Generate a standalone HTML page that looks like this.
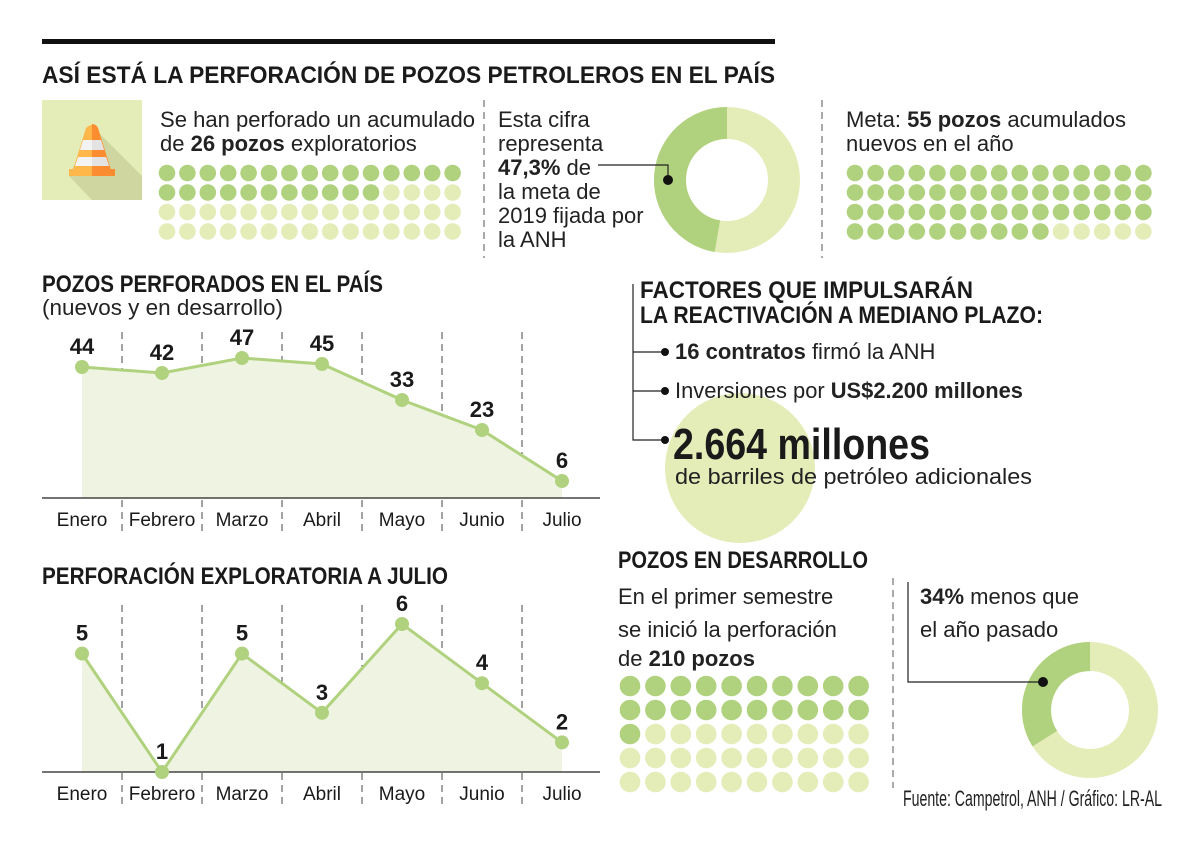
<!DOCTYPE html>
<html><head><meta charset="utf-8">
<style>
html,body{margin:0;padding:0;background:#fff;}
svg{display:block;}
text{font-family:"Liberation Sans Narrow","Liberation Sans",sans-serif;fill:#1a1a1a;}
.t{font-size:22px;font-weight:300;fill:#222;}
.h{font-weight:bold;font-size:24px;}
.b{font-weight:bold;}
</style></head>
<body>
<svg id="s" width="1200" height="847" viewBox="0 0 1200 847" xmlns="http://www.w3.org/2000/svg">
<rect x="42" y="39" width="733" height="5" fill="#111"/>
<text x="42" y="83" class="h" font-size="29" textLength="733" lengthAdjust="spacingAndGlyphs">ASÍ ESTÁ LA PERFORACIÓN DE POZOS PETROLEROS EN EL PAÍS</text>

<g>
<rect x="42" y="100" width="100" height="100" fill="#e4ecb8"/>
<polygon points="92,126 142,176 142,200 92,200 69,176" fill="#cfd6a0"/>
<path d="M86,128 Q92,122 98,128 L111,170 L73,170 Z" fill="#ffb74a"/>
<path d="M92,124 Q96,124 98,128 L111,170 L92,170 Z" fill="#fb8c2f"/>
<polygon points="83,140 101,140 104,150 80,150" fill="#f3f3f3"/>
<polygon points="78,157 106,157 109,166 75,166" fill="#f3f3f3"/>
<polygon points="92,140 101,140 104,150 92,150" fill="#e3e3e3"/>
<polygon points="92,157 106,157 109,166 92,166" fill="#e3e3e3"/>
<rect x="69" y="169" width="46" height="7" fill="#ffb74a"/>
<rect x="92" y="169" width="23" height="7" fill="#fb8c2f"/>
</g>

<text x="160" y="127" class="t" textLength="315" lengthAdjust="spacingAndGlyphs">Se han perforado un acumulado</text>
<text x="160" y="151" class="t">de <tspan class="b">26 pozos</tspan> exploratorios</text>
<g id="dots1"></g>

<line x1="484" y1="100" x2="484" y2="258" stroke="#555" stroke-dasharray="7,5"/>
<text class="t">
<tspan x="498" y="127">Esta cifra</tspan><tspan x="498" y="151">representa</tspan><tspan x="498" y="175" class="b">47,3%</tspan><tspan> de</tspan><tspan x="498" y="199">la meta de</tspan><tspan x="498" y="223">2019 fijada por</tspan><tspan x="498" y="247">la ANH</tspan></text>
<g id="donut1"></g>
<polyline points="598,165 668,165 668,180" fill="none" stroke="#222" stroke-width="1.2"/>
<circle cx="668" cy="180" r="5" fill="#111"/>

<line x1="822" y1="100" x2="822" y2="258" stroke="#555" stroke-dasharray="7,5"/>
<text x="846" y="127" class="t">Meta: <tspan class="b">55 pozos</tspan> acumulados</text>
<text x="846" y="151" class="t">nuevos en el año</text>
<g id="dots2"></g>

<text x="42" y="292" class="h" textLength="341" lengthAdjust="spacingAndGlyphs">POZOS PERFORADOS EN EL PAÍS</text>
<text x="42" y="315" class="t" font-size="21" textLength="241" lengthAdjust="spacingAndGlyphs">(nuevos y en desarrollo)</text>
<g id="chart1"></g>

<text x="42" y="584" class="h" textLength="406" lengthAdjust="spacingAndGlyphs">PERFORACIÓN EXPLORATORIA A JULIO</text>
<g id="chart2"></g>

<circle cx="740" cy="468" r="75" fill="#e4ecb8"/>
<text x="640" y="298" class="h" textLength="333" lengthAdjust="spacingAndGlyphs">FACTORES QUE IMPULSARÁN</text>
<text x="640" y="323" class="h" textLength="403" lengthAdjust="spacingAndGlyphs">LA REACTIVACIÓN A MEDIANO PLAZO:</text>
<g stroke="#222" stroke-width="1.2" fill="none">
<polyline points="633,284 633,440 665,440"/>
<line x1="633" y1="352" x2="665" y2="352"/>
<line x1="633" y1="391" x2="665" y2="391"/>
</g>
<circle cx="665" cy="352" r="4" fill="#111"/>
<circle cx="665" cy="391" r="4" fill="#111"/>
<circle cx="665" cy="440" r="4" fill="#111"/>
<text x="675" y="359" class="t" font-size="21"><tspan class="b">16 contratos</tspan> firmó la ANH</text>
<text x="675" y="398" class="t" font-size="21" textLength="348" lengthAdjust="spacingAndGlyphs">Inversiones por <tspan class="b">US$2.200 millones</tspan></text>
<text x="673" y="459" class="b" font-size="44" font-family="Liberation Sans" textLength="257" lengthAdjust="spacingAndGlyphs">2.664 millones</text>
<text x="675" y="484" class="t" textLength="357" lengthAdjust="spacingAndGlyphs">de barriles de petróleo adicionales</text>

<text x="618" y="568" class="h" textLength="250" lengthAdjust="spacingAndGlyphs">POZOS EN DESARROLLO</text>
<text class="t"><tspan x="618" y="604">En el primer semestre</tspan><tspan x="618" y="637">se inició la perforación</tspan><tspan x="618" y="666">de </tspan><tspan class="b">210 pozos</tspan></text>
<g id="dots3"></g>

<line x1="893" y1="578" x2="893" y2="788" stroke="#555" stroke-dasharray="7,5"/>
<text class="t"><tspan x="920" y="604" class="b">34%</tspan><tspan> menos que</tspan><tspan x="920" y="637">el año pasado</tspan></text>
<g id="donut2"></g>
<polyline points="908,582 908,682 1043,682" fill="none" stroke="#222" stroke-width="1.2"/>
<circle cx="1043" cy="682" r="5" fill="#111"/>

<text x="903" y="806" class="t" font-size="15" textLength="259" lengthAdjust="spacingAndGlyphs">Fuente: Campetrol, ANH / Gráfico: LR-AL</text>
</svg>
<script>
const months = ["Enero","Febrero","Marzo","Abril","Mayo","Junio","Julio"];
const totalWells = [44,42,47,45,33,23,6];
const exploratoryWells = [5,1,5,3,6,4,2];
const exploratoryCount = 26;
const goalCount = 55;
const developmentShare = 21;
const donut1Pct = 47.3;
const donut2Pct = 34;

const NS = "http://www.w3.org/2000/svg";
const DARK = "#b0d27e", LIGHT = "#e4ecb8", FILL = "#eff4e2";
function mk(tag, attrs, parent){ const e=document.createElementNS(NS,tag); for(const k in attrs) e.setAttribute(k,attrs[k]); parent.appendChild(e); return e; }

function dots(id, cols, rows, x0, y0, dx, dy, r, dark){
  const g=document.getElementById(id);
  for(let i=0;i<cols*rows;i++){
    const c=mk("circle",{cx:x0+(i%cols)*dx, cy:y0+Math.floor(i/cols)*dy, r:r, fill:i<dark?DARK:LIGHT},g);
    
    
  }
}
dots("dots1",15,4,167,173,20.4,19.5,8.3,exploratoryCount);
dots("dots2",15,4,855,173,20.6,19.5,8.3,goalCount);
dots("dots3",10,5,630,686,25.4,24,10.3,developmentShare);

function donut(id, cx, cy, R, r, pct){
  const g=document.getElementById(id);
  const ring=mk("circle",{cx:cx,cy:cy,r:(R+r)/2,fill:"none",stroke:LIGHT,"stroke-width":R-r},g);
  
  
  const a=pct/100*2*Math.PI, m=(R+r)/2;
  const x=cx-m*Math.sin(a), y=cy-m*Math.cos(a);
  const p=mk("path",{d:`M${cx},${cy-m} A${m},${m} 0 ${pct>50?1:0} 0 ${x},${y}`,fill:"none",stroke:DARK,"stroke-width":R-r},g);
  
  
}
donut("donut1",727,180,73,41,donut1Pct);
donut("donut2",1090,710,68,39,donut2Pct);

function lineChart(id, vals, yOf, base, top, bottom){
  const g=document.getElementById(id);
  const xOf=i=>82+i*80;
  for(let i=0;i<6;i++){
    const l=mk("line",{x1:xOf(i)+40,y1:top,x2:xOf(i)+40,y2:bottom,stroke:"#444","stroke-dasharray":"7,5"},g);
    
    
  }
  let d=`M${xOf(0)},${base}`; vals.forEach((v,i)=>d+=` L${xOf(i)},${yOf(v)}`); d+=` L${xOf(vals.length-1)},${base} Z`;
  const a=mk("path",{d:d,fill:FILL},g);
  
  
  const ax=mk("line",{x1:42,y1:base,x2:600,y2:base,stroke:"#222","stroke-width":1.2},g);
  
  
  const pl=mk("polyline",{points:vals.map((v,i)=>xOf(i)+","+yOf(v)).join(" "),fill:"none",stroke:DARK,"stroke-width":3},g);
  
  
  vals.forEach((v,i)=>{
    const c=mk("circle",{cx:xOf(i),cy:yOf(v),r:7,fill:DARK},g);
    
    
    const t=mk("text",{x:xOf(i),y:yOf(v)-13,"text-anchor":"middle","font-size":22,"font-weight":"bold"},g);
    t.textContent=v;
    
    
    const m=mk("text",{x:xOf(i),y:base+28,"text-anchor":"middle","font-size":19,"font-weight":300,fill:"#333"},g);
    m.textContent=months[i];
    
    
  });
}
lineChart("chart1", totalWells, v=>499-v*3.0, 498, 332, 532);
lineChart("chart2", exploratoryWells, v=>801.6-v*29.6, 772, 605, 805);
</script>
</body></html>
